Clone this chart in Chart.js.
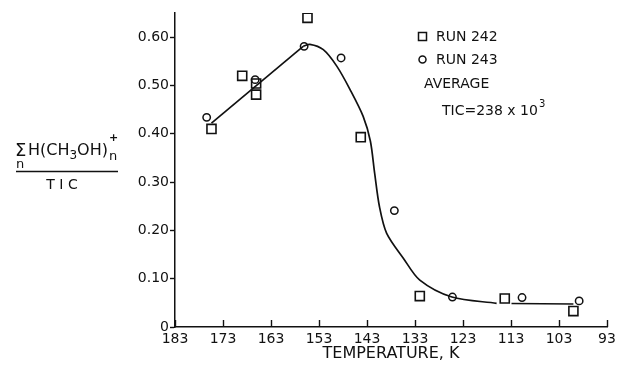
<!DOCTYPE html>
<html>
<head>
<meta charset="utf-8">
<script src="https://cdn.jsdelivr.net/npm/chart.js@4/dist/chart.umd.min.js"></script>
<style>
  html, body { margin: 0; padding: 0; background: #fff; }
  #wrap { position: relative; width: 620px; height: 369px; }
</style>
</head>
<body>
<div id="wrap"><canvas id="c"></canvas></div>
<script>
// Methanol cluster ion fraction vs. temperature, two runs plus a hand-drawn trend curve
const run242Temp = [175.4, 169.0, 166.1, 166.1, 155.4, 144.3, 132.0, 114.3, 100.0];
const run242Frac = [0.410, 0.520, 0.504, 0.481, 0.640, 0.393, 0.064, 0.059, 0.033];

const run243Temp = [176.4, 166.3, 156.1, 148.4, 137.3, 125.2, 110.7, 98.8];
const run243Frac = [0.434, 0.512, 0.581, 0.557, 0.241, 0.062, 0.061, 0.054];

// trend line: straight rise, smooth fall, flat tail
const riseTemp = [175.4, 156.3];
const riseFrac = [0.422, 0.581];
const fallTemp = [156.3, 154.9, 152.1, 149.3, 146.5, 143.8, 142.3, 141.4, 140.4, 138.9, 135.4, 132.0, 125.3, 116.0];
const fallFrac = [0.581, 0.585, 0.574, 0.540, 0.491, 0.436, 0.385, 0.318, 0.249, 0.194, 0.142, 0.097, 0.062, 0.049];
const tailTemp = [112.9, 100.0];
const tailFrac = [0.0486, 0.0476];

const xTickValues = [183, 173, 163, 153, 143, 133, 123, 113, 103, 93];
const yTickValues = [0, 0.1, 0.2, 0.3, 0.4, 0.5, 0.6];
const yTickLabels = ['0', '0.10', '0.20', '0.30', '0.40', '0.50', '0.60'];

const legendRun242 = 'RUN 242';
const legendRun243 = 'RUN 243';
const noteAverage = 'AVERAGE';
const noteTic = 'TIC=238 x 10';
const noteTicExp = '3';
const xTitle = 'TEMPERATURE, K';

const FONT = '"DejaVu Sans", sans-serif';
const INK = '#111';

const pts = (xs, ys) => xs.map((x, i) => ({ x, y: ys[i] }));

const lineStyle = {
  showLine: true, pointRadius: 0, borderColor: INK, borderWidth: 1.7,
  backgroundColor: INK, fill: false
};

// inward x tick marks, y-axis fraction label and the in-plot key
const decorations = {
  id: 'decorations',
  afterDraw(chart) {
    const ctx = chart.ctx;
    const xs = chart.scales.x;
    const area = chart.chartArea;
    ctx.save();
    ctx.strokeStyle = INK;
    ctx.lineWidth = 1.4;
    xTickValues.forEach(v => {
      const px = Math.round(xs.getPixelForValue(v)) + 0.5;
      ctx.beginPath();
      ctx.moveTo(px, area.bottom);
      ctx.lineTo(px, area.bottom - 7);
      ctx.stroke();
    });

    ctx.fillStyle = INK;
    ctx.textBaseline = 'alphabetic';
    ctx.textAlign = 'left';

    // numerator: Σ_n H(CH3OH)n+
    ctx.font = '18px ' + FONT;
    ctx.fillText('\u03A3', 15, 156);
    ctx.font = '13px ' + FONT;
    ctx.fillText('n', 16, 168);
    ctx.font = '16px ' + FONT;
    let x = 28;
    ctx.fillText('H(CH', x, 155);
    x += ctx.measureText('H(CH').width;
    ctx.font = '12px ' + FONT;
    ctx.fillText('3', x, 159);
    x += ctx.measureText('3').width;
    ctx.font = '16px ' + FONT;
    ctx.fillText('OH)', x, 155);
    x += ctx.measureText('OH)').width;
    ctx.font = 'bold 11px ' + FONT;
    ctx.fillText('+', x + 1, 141);
    ctx.font = '13px ' + FONT;
    ctx.fillText('n', x + 1, 160);

    // fraction bar and denominator
    ctx.lineWidth = 1.3;
    ctx.beginPath();
    ctx.moveTo(16, 171.5);
    ctx.lineTo(118, 171.5);
    ctx.stroke();
    ctx.font = '14px ' + FONT;
    ctx.textAlign = 'center';
    ctx.fillText('T I C', 62, 189);

    // key
    ctx.lineWidth = 1.5;
    ctx.strokeStyle = INK;
    ctx.strokeRect(418.5, 32.5, 8, 8);
    ctx.beginPath();
    ctx.arc(422.5, 59.5, 3.5, 0, Math.PI * 2);
    ctx.stroke();
    ctx.textAlign = 'left';
    ctx.textBaseline = 'middle';
    ctx.font = '14px ' + FONT;
    ctx.fillText(legendRun242, 436, 37);
    ctx.fillText(legendRun243, 436, 60);
    ctx.fillText(noteAverage, 424, 84);
    ctx.fillText(noteTic, 442, 111);
    const w = ctx.measureText(noteTic).width;
    ctx.font = '10px ' + FONT;
    ctx.fillText(noteTicExp, 442 + w + 1, 104);
    ctx.restore();
  }
};

new Chart(document.getElementById('c'), {
  type: 'scatter',
  data: {
    datasets: [
      Object.assign({ label: 'rise', data: pts(riseTemp, riseFrac), tension: 0 }, lineStyle),
      Object.assign({ label: 'fall', data: pts(fallTemp, fallFrac), tension: 0.3 }, lineStyle),
      Object.assign({ label: 'tail', data: pts(tailTemp, tailFrac), tension: 0 }, lineStyle),
      {
        label: legendRun242, data: pts(run242Temp, run242Frac),
        pointStyle: 'rect', pointRadius: 6.4, borderColor: INK, borderWidth: 1.6,
        backgroundColor: 'rgba(255,255,255,0)'
      },
      {
        label: legendRun243, data: pts(run243Temp, run243Frac),
        pointStyle: 'circle', pointRadius: 3.7, borderColor: INK, borderWidth: 1.5,
        backgroundColor: 'rgba(255,255,255,0)'
      }
    ]
  },
  options: {
    responsive: true,
    maintainAspectRatio: false,
    animation: false,
    events: [],
    layout: { padding: { top: 13, right: 13, left: 0, bottom: 0 } },
    plugins: { legend: { display: false }, tooltip: { enabled: false } },
    scales: {
      x: {
        type: 'linear', reverse: true, min: 93, max: 183,
        afterBuildTicks: s => { s.ticks = xTickValues.map(v => ({ value: v })); },
        afterFit: s => { s.height = 42; },
        grid: { drawOnChartArea: false, drawTicks: false },
        border: { display: true, color: INK, width: 1.5 },
        ticks: { color: INK, font: { family: FONT, size: 14 }, padding: 4, maxRotation: 0, autoSkip: false,
                 callback: v => String(v) },
        title: { display: true, text: xTitle, color: INK, font: { family: FONT, size: 16 }, padding: { top: 0, bottom: 6 } }
      },
      y: {
        type: 'linear', min: 0, max: 0.65,
        afterBuildTicks: s => { s.ticks = yTickValues.map(v => ({ value: v })); },
        afterFit: s => { s.width = 175; },
        grid: { drawOnChartArea: false, drawTicks: true, tickLength: 5, color: INK, tickWidth: 1.4 },
        border: { display: true, color: INK, width: 1.5 },
        ticks: { color: INK, font: { family: FONT, size: 14 }, padding: 1,
                 callback: (v) => yTickLabels[yTickValues.findIndex(t => Math.abs(t - v) < 1e-9)] }
      }
    }
  },
  plugins: [decorations]
});
</script>
</body>
</html>
